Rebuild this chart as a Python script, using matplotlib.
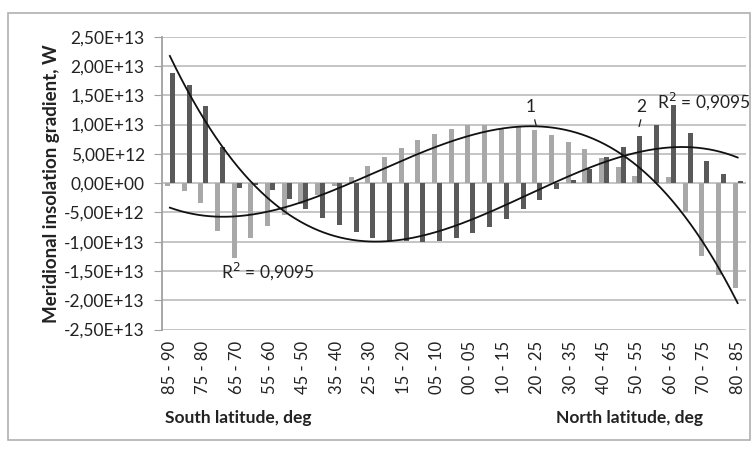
import numpy as np
import matplotlib
matplotlib.use("Agg")
import matplotlib.pyplot as plt
from matplotlib.patches import Rectangle
from matplotlib.ticker import FixedLocator, FuncFormatter

plt.rcParams['font.family'] = ['Lato', 'DejaVu Sans']

# ---- data ----
south = ['85 - 90', '80 - 85', '75 - 80', '70 - 75', '65 - 70', '60 - 65',
         '55 - 60', '50 - 55', '45 - 50', '40 - 45', '35 - 40', '30 - 35',
         '25 - 30', '20 - 25', '15 - 20', '10 - 15', '05 - 10', '00 - 05']
north = ['00 - 05', '05 - 10', '10 - 15', '15 - 20', '20 - 25', '25 - 30',
         '30 - 35', '35 - 40', '40 - 45', '45 - 50', '50 - 55', '55 - 60',
         '60 - 65', '65 - 70', '70 - 75', '75 - 80', '80 - 85']
categories = south + north

# series 1 (light grey bars), in 1E12 W
series1 = [-0.5, -1.4, -3.4, -8.1, -12.8, -9.3, -7.4, -5.5, -3.5, -2.0,
           -0.5, 1.1, 3.0, 4.5, 6.0, 7.4, 8.4, 9.2, 9.9, 9.9,
           9.2, 9.7, 9.1, 8.2, 7.1, 5.8, 4.3, 2.8, 1.3, 0.1,
           1.0, -5.0, -12.5, -15.7, -17.9]
# series 2 (dark grey bars), in 1E12 W
series2 = [18.75, 16.8, 13.1, 6.25, -0.9, -0.3, -1.25, -2.7, -4.4, -6.0,
           -7.2, -8.35, -9.3, -9.8, -9.9, -10.1, -9.8, -9.4, -8.5, -7.5,
           -6.1, -4.5, -2.9, -1.0, 0.6, 2.5, 4.4, 6.1, 8.0, 9.9,
           13.4, 8.6, 3.8, 1.6, 0.4]
scale = 1e12
s1 = np.array(series1) * scale
s2 = np.array(series2) * scale

yticks = [2.5e13, 2.0e13, 1.5e13, 1.0e13, 5e12, 0, -5e12, -1.0e13,
          -1.5e13, -2.0e13, -2.5e13]
r2_text = 'R$^2$ = 0,9095'

# ---- figure ----
W, H = 756, 450
fig = plt.figure(figsize=(W / 100, H / 100), dpi=100)
ax = fig.add_axes([161.5 / W, 1 - 329.5 / H, (746 - 161.5) / W, (329.5 - 36.8) / H])

x = np.arange(len(categories))
bw = 0.3
light = '#a8a8a8'
dark = '#595959'
ax.bar(x - bw / 2, s1, width=bw, color=light, zorder=3)
ax.bar(x + bw / 2, s2, width=bw, color=dark, zorder=3)

# polynomial trend lines (order 3)
xf = np.linspace(0, len(categories) - 1, 300)
p1 = np.polyfit(x, s1, 3)
p2 = np.polyfit(x, s2, 3)
ax.plot(xf, np.polyval(p1, xf), color='#111111', lw=1.3, zorder=4)
ax.plot(xf, np.polyval(p2, xf), color='#111111', lw=1.3, zorder=4)

ax.set_xlim(-0.5, len(categories) - 0.5)
ax.set_ylim(-2.5e13, 2.5e13)
ax.yaxis.set_major_locator(FixedLocator(yticks))

def fmt(v, pos):
    if v == 0:
        return '0,00E+00'
    e = int(np.floor(np.log10(abs(v))))
    m = v / 10 ** e
    return ('%.2f' % m).replace('.', ',') + 'E+%02d' % e

ax.yaxis.set_major_formatter(FuncFormatter(fmt))
ax.grid(axis='y', color='#c0c0c0', lw=1.3, zorder=0)
ax.set_axisbelow(True)
for s in ['top', 'right', 'bottom']:
    ax.spines[s].set_visible(False)
ax.spines['left'].set_color('#a0a0a0')
ax.spines['left'].set_linewidth(1.3)
ax.tick_params(axis='y', length=6, color='#a0a0a0', labelsize=12.5, pad=6, labelcolor='#222222')

ax.set_xticks(x[::2])
ax.set_xticklabels(categories[::2], rotation=90, fontsize=12, color='#222222')
ax.tick_params(axis='x', length=0, pad=8)

ax.set_ylabel('Meridional insolation gradient, W', fontsize=13.5, fontweight='bold',
              color='#222222', labelpad=3)

# annotations
ax.text(3.05, -1.5e13, r2_text, fontsize=12.5, ha='left', va='center', color='#222222', zorder=5)
ax.text(29.2, 1.4e13, r2_text, fontsize=12.5, ha='left', va='center', color='#222222', zorder=5)
ax.text(21.6, 1.3e13, '1', fontsize=12.5, ha='center', va='center', color='#222222', zorder=5)
ax.plot([21.85, 21.95], [1.08e13, 0.97e13], color='#222222', lw=0.9, zorder=5)
ax.text(28.25, 1.3e13, '2', fontsize=12.5, ha='center', va='center', color='#222222', zorder=5)
ax.plot([28.2, 28.1], [1.08e13, 0.97e13], color='#222222', lw=0.9, zorder=5)

fig.text(165 / W, 1 - 418 / H, 'South latitude, deg', fontsize=12.5, fontweight='bold',
         ha='left', va='center', color='#222222')
fig.text(556 / W, 1 - 418 / H, 'North latitude, deg', fontsize=12.5, fontweight='bold',
         ha='left', va='center', color='#222222')

fig.patches.append(Rectangle((8 / W, 1 - 440 / H), (750 - 8) / W, (440 - 13) / H,
                             transform=fig.transFigure, fill=False,
                             edgecolor='#b0b0b0', lw=1.2))

fig.savefig('out.png', dpi=100)
